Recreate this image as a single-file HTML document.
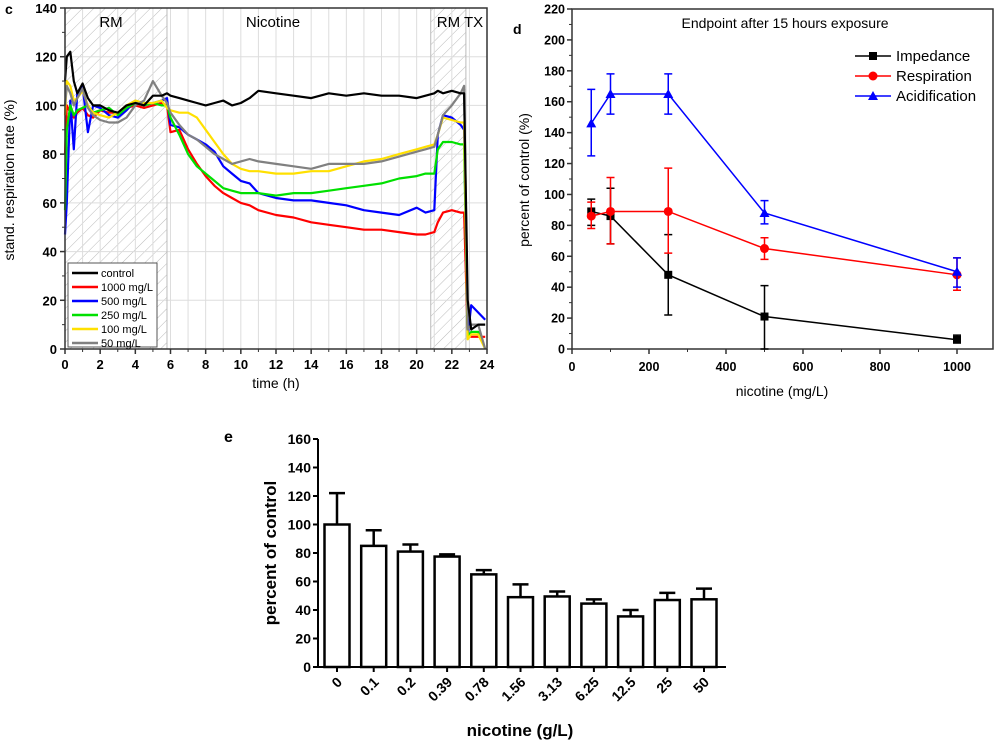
<!DOCTYPE html>
<html><head><meta charset="utf-8"><style>
html,body{margin:0;padding:0;background:#fff;}
svg{display:block;font-family:"Liberation Sans",sans-serif;}
</style></head><body>
<svg id="fig" width="1000" height="746" viewBox="0 0 1000 746" xmlns="http://www.w3.org/2000/svg">
<defs>
<pattern id="hatch" width="8" height="8" patternUnits="userSpaceOnUse" patternTransform="rotate(45)">
<line x1="0" y1="0" x2="0" y2="8" stroke="#bbb" stroke-width="1"/>
</pattern>
</defs>
<g id="panelC"></g>
<g id="panelD"></g>
<g id="panelE"></g>
</svg>
<script>
// ---------- Panel c data ----------
const cTimes=[0,0.1,0.3,0.5,0.7,1,1.3,1.6,2,2.5,3,3.5,4,4.5,5,5.5,5.8,6,6.5,7,7.5,8,8.5,9,9.5,10,10.5,11,12,13,14,15,16,17,18,19,20,20.5,21,21.2,21.5,22,22.5,22.7,22.9,23.1,23.5,23.9];
const cControl=[110,120,122,110,105,109,103,100,100,98,97,100,101,100,104,104,105,104,103,102,101,100,101,102,100,101,103,106,105,104,103,105,104,105,104,104,103,104,105,106,105,106,105,105,20,8,10,10];
const c1000=[80,100,97,95,97,99,96,95,98,97,97,99,100,99,100,101,100,89,90,82,76,71,67,64,62,60,59,57,55,54,52,51,50,49,49,48,47,47,48,52,56,57,56,56,6,5,5,5];
const c500=[47,60,102,82,105,108,89,100,99,96,95,98,102,100,101,102,103,92,91,88,86,84,81,75,72,69,68,64,62,61,61,60,59,57,56,55,58,56,57,88,96,95,92,90,5,18,15,12];
const c250=[57,90,100,96,98,99,100,97,98,99,96,99,101,100,101,100,100,95,88,80,75,72,69,66,65,64,64,64,63,64,64,65,66,67,68,70,71,72,72,82,85,85,84,84,5,7,7,0];
const c100=[96,110,108,102,103,106,100,97,96,95,97,100,102,101,101,102,99,98,97,97,95,90,85,80,76,74,73,73,72,72,73,73,75,77,78,80,82,83,84,88,95,94,93,93,4,6,6,0];
const c50=[100,108,105,100,103,107,99,96,94,93,93,95,100,102,110,104,101,97,92,88,86,83,80,78,76,77,78,77,76,75,74,76,76,76,77,79,81,82,83,88,96,100,105,108,8,10,10,0];
const cSeriesNames=["control","1000 mg/L","500 mg/L","250 mg/L","100 mg/L","50 mg/L"];
const cXTicks=[0,2,4,6,8,10,12,14,16,18,20,22,24];
const cYTicks=[0,20,40,60,80,100,120,140];
// ---------- Panel d data ----------
const dConc=[50,100,250,500,1000];
const dImp=[89,86,48,21,6], dImpHi=[97,104,74,41,9], dImpLo=[80,68,22,0,4];
const dRes=[86,89,89,65,48], dResHi=[95,111,117,72,59], dResLo=[78,68,62,58,38];
const dAci=[146,165,165,88,50], dAciHi=[168,178,178,96,59], dAciLo=[125,152,152,81,40];
const dXTicks=[0,200,400,600,800,1000];
const dYTicks=[0,20,40,60,80,100,120,140,160,180,200,220];
// ---------- Panel e data ----------
const eCats=["0","0.1","0.2","0.39","0.78","1.56","3.13","6.25","12.5","25","50"];
const eVals=[100,85,81,77.5,65,49,49.5,44.5,35.5,47,47.5];
const eErrHi=[122,96,86,79,68,58,53,47.5,40,52,55];
const eYTicks=[0,20,40,60,80,100,120,140,160];

const NS="http://www.w3.org/2000/svg";
function mk(parent,tag,attrs,text){const e=document.createElementNS(NS,tag);for(const k in attrs)e.setAttribute(k,attrs[k]);if(text!==undefined)e.textContent=text;parent.appendChild(e);return e;}

// ===== Panel C =====
(function(){
const g=document.getElementById('panelC');
const X0=65,X1=487,Y0=349,Y1=8;
const sx=t=>X0+(X1-X0)*t/24, sy=v=>Y0-(Y0-Y1)*v/140;
let r=mk(g,'rect',{x:sx(0),y:Y1,width:sx(5.8)-sx(0),height:Y0-Y1,fill:'url(#hatch)'});

r=mk(g,'rect',{x:sx(20.8),y:Y1,width:sx(22.8)-sx(20.8),height:Y0-Y1,fill:'url(#hatch)'});

for(let t=1;t<24;t++){const l=mk(g,'line',{x1:sx(t),x2:sx(t),y1:Y1,y2:Y0,stroke:'#ddd','stroke-width':1});}
for(const v of cYTicks){if(v===0)continue;const l=mk(g,'line',{x1:X0,x2:X1,y1:sy(v),y2:sy(v),stroke:'#ddd','stroke-width':1});}
mk(g,'line',{x1:sx(5.8),x2:sx(5.8),y1:Y1,y2:Y0,stroke:'#bbb'});
mk(g,'line',{x1:sx(20.8),x2:sx(20.8),y1:Y1,y2:Y0,stroke:'#bbb'});
mk(g,'line',{x1:sx(22.8),x2:sx(22.8),y1:Y1,y2:Y0,stroke:'#bbb'});
const series=[cControl,c1000,c500,c250,c100,c50];
const colors=['#000','#f00','#0000ff','#00e000','#ffe000','#808080'];
const order=[1,2,3,4,5,0];
for(const i of order){
 const d=series[i].map((v,j)=>(j?'L':'M')+sx(cTimes[j]).toFixed(1)+','+sy(v).toFixed(1)).join('');
 const p=mk(g,'path',{d:d,fill:'none',stroke:colors[i],'stroke-width':2.2,'stroke-linejoin':'round'});
 
 
}
mk(g,'rect',{x:X0,y:Y1,width:X1-X0,height:Y0-Y1,fill:'none',stroke:'#333','stroke-width':1.5});
for(const t of cXTicks){mk(g,'line',{x1:sx(t),x2:sx(t),y1:Y0,y2:Y0+5,stroke:'#333','stroke-width':1.5});
 const tx=mk(g,'text',{x:sx(t),y:Y0+20,'text-anchor':'middle','font-size':13,'font-weight':'bold'},t);
 }
for(let t=1;t<24;t+=2)mk(g,'line',{x1:sx(t),x2:sx(t),y1:Y0,y2:Y0+3,stroke:'#333'});
for(const v of cYTicks){mk(g,'line',{x1:X0-5,x2:X0,y1:sy(v),y2:sy(v),stroke:'#333','stroke-width':1.5});
 const tx=mk(g,'text',{x:X0-8,y:sy(v)+5,'text-anchor':'end','font-size':13,'font-weight':'bold'},v);
 }
for(let v=10;v<140;v+=20)mk(g,'line',{x1:X0-3,x2:X0,y1:sy(v),y2:sy(v),stroke:'#333'});
let t=mk(g,'text',{x:276,y:388,'text-anchor':'middle','font-size':14},'time (h)');
t=mk(g,'text',{x:14,y:180,'text-anchor':'middle','font-size':14,transform:'rotate(-90 14 180)'},'stand. respiration rate (%)');
t=mk(g,'text',{x:5,y:14,'font-size':14,'font-weight':'bold'},'c');
t=mk(g,'text',{x:111,y:27,'text-anchor':'middle','font-size':15},'RM');
t=mk(g,'text',{x:273,y:27,'text-anchor':'middle','font-size':15},'Nicotine');
t=mk(g,'text',{x:460,y:27,'text-anchor':'middle','font-size':15},'RM TX');
const lg=mk(g,'g',{});
mk(lg,'rect',{x:68,y:263,width:89,height:84,fill:'#fff',stroke:'#555'});
cSeriesNames.forEach((n,i)=>{const y=273+i*14;
 const e=mk(lg,'g',{});
 mk(e,'line',{x1:72,x2:98,y1:y,y2:y,stroke:colors[i],'stroke-width':2.5});
 mk(e,'text',{x:101,y:y+4,'font-size':11},n);});
})();

// ===== Panel D =====
(function(){
const g=document.getElementById('panelD');
const X0=572,X1=957,XR=993,Y0=349,Y1=9;
const sx=v=>X0+(X1-X0)*v/1000, sy=v=>Y0-(Y0-Y1)*v/220;
mk(g,'rect',{x:X0,y:Y1,width:XR-X0,height:Y0-Y1,fill:'none',stroke:'#333','stroke-width':1.5});
for(const v of dXTicks){mk(g,'line',{x1:sx(v),x2:sx(v),y1:Y0,y2:Y0+5,stroke:'#333','stroke-width':1.5});
 const tx=mk(g,'text',{x:sx(v),y:Y0+22,'text-anchor':'middle','font-size':12.5,'font-weight':'bold'},v);
 }
for(let v=100;v<1100;v+=200)mk(g,'line',{x1:sx(v),x2:sx(v),y1:Y0,y2:Y0+3,stroke:'#333'});
for(const v of dYTicks){mk(g,'line',{x1:X0-5,x2:X0,y1:sy(v),y2:sy(v),stroke:'#333','stroke-width':1.5});
 const tx=mk(g,'text',{x:X0-7,y:sy(v)+4.5,'text-anchor':'end','font-size':12.5,'font-weight':'bold'},v);
 }
for(let v=10;v<220;v+=20)mk(g,'line',{x1:X0-3,x2:X0,y1:sy(v),y2:sy(v),stroke:'#333'});
let t=mk(g,'text',{x:782,y:396,'text-anchor':'middle','font-size':14},'nicotine (mg/L)');
t=mk(g,'text',{x:529,y:180,'text-anchor':'middle','font-size':14,transform:'rotate(-90 529 180)'},'percent of control (%)');
t=mk(g,'text',{x:513,y:34,'font-size':14,'font-weight':'bold'},'d');
t=mk(g,'text',{x:785,y:28,'text-anchor':'middle','font-size':14},'Endpoint after 15 hours exposure');
const S=[{n:'Impedance',v:dImp,hi:dImpHi,lo:dImpLo,c:'#000',m:'sq'},{n:'Respiration',v:dRes,hi:dResHi,lo:dResLo,c:'#f00',m:'ci'},{n:'Acidification',v:dAci,hi:dAciHi,lo:dAciLo,c:'#00f',m:'tr'}];
function marker(p,m,x,y,c){if(m==='sq')return mk(p,'rect',{x:x-4,y:y-4,width:8,height:8,fill:c});if(m==='ci')return mk(p,'circle',{cx:x,cy:y,r:4.5,fill:c});return mk(p,'polygon',{points:`${x},${y-5} ${x-5},${y+4} ${x+5},${y+4}`,fill:c});}
S.forEach((s,si)=>{
 const sg=mk(g,'g',{});
 mk(sg,'path',{d:s.v.map((v,j)=>(j?'L':'M')+sx(dConc[j])+','+sy(v)).join(''),fill:'none',stroke:s.c,'stroke-width':1.5});
 s.v.forEach((v,j)=>{const x=sx(dConc[j]);
  const eb=mk(sg,'path',{d:`M${x},${sy(s.lo[j])}V${sy(s.hi[j])}M${x-4},${sy(s.lo[j])}h8M${x-4},${sy(s.hi[j])}h8`,stroke:s.c,'stroke-width':1.5,fill:'none'});
  
  const mkr=marker(sg,s.m,x,sy(v),s.c);});
 const y=56+si*20;
 const le=mk(g,'g',{});
 mk(le,'line',{x1:855,x2:891,y1:y,y2:y,stroke:s.c,'stroke-width':1.5});
 marker(le,s.m,873,y,s.c);
 mk(le,'text',{x:896,y:y+5,'font-size':15},s.n);
});
})();

// ===== Panel E =====
(function(){
const g=document.getElementById('panelE');
const X0=318,X1=726,Y0=667,Y1=439;
const sy=v=>Y0-(Y0-Y1)*v/160;
const cx=i=>337+i*36.7;
mk(g,'line',{x1:X0,x2:X0,y1:Y1,y2:Y0,stroke:'#000','stroke-width':2});
mk(g,'line',{x1:X0,x2:X1,y1:Y0,y2:Y0,stroke:'#000','stroke-width':2});
for(const v of eYTicks){mk(g,'line',{x1:X0-5,x2:X0,y1:sy(v),y2:sy(v),stroke:'#000','stroke-width':2});
 const tx=mk(g,'text',{x:X0-7,y:sy(v)+5,'text-anchor':'end','font-size':14,'font-weight':'bold'},v);
 }
eCats.forEach((c,i)=>{const x=cx(i);
 const eb=mk(g,'path',{d:`M${x},${sy(eVals[i])}V${sy(eErrHi[i])}M${x-8},${sy(eErrHi[i])}h16`,stroke:'#000','stroke-width':2.5,fill:'none'});
 
 const b=mk(g,'rect',{x:x-12.5,y:sy(eVals[i]),width:25,height:Y0-sy(eVals[i]),fill:'#fff',stroke:'#000','stroke-width':2.5});
 
 mk(g,'line',{x1:x,x2:x,y1:Y0,y2:Y0+5,stroke:'#000','stroke-width':2});
 const tx=mk(g,'text',{x:x+6,y:Y0+16,'text-anchor':'end','font-size':14,'font-weight':'bold',transform:`rotate(-45 ${x+6} ${Y0+16})`},c);
 });
let t=mk(g,'text',{x:520,y:736,'text-anchor':'middle','font-size':17,'font-weight':'bold'},'nicotine (g/L)');
t=mk(g,'text',{x:276,y:553,'text-anchor':'middle','font-size':17,'font-weight':'bold',transform:'rotate(-90 276 553)'},'percent of control');
t=mk(g,'text',{x:224,y:442,'font-size':16,'font-weight':'bold'},'e');
})();
</script>
</body></html>
